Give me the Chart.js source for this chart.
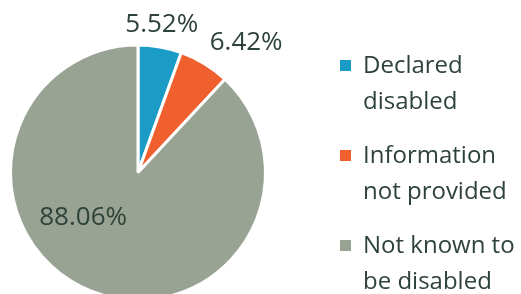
<!DOCTYPE html>
<html>
<head>
<meta charset="utf-8">
<script src="https://cdn.jsdelivr.net/npm/chart.js@4"></script>
<style>
  html, body { margin: 0; padding: 0; background: #fff; overflow: hidden; }
  body { width: 521px; height: 294px; position: relative; }
  #chart { position: absolute; left: 0; top: 0; }
  #legend {
    position: absolute; left: 340px; top: 46px;
    font-family: "Open Sans", sans-serif; font-size: 24px; line-height: 35.5px;
    color: #2d4238;
  }
  .item { display: flex; align-items: flex-start; margin-bottom: 19px; }
  .box { width: 11px; height: 11px; margin-top: 14px; margin-right: 12px; flex: none; }
</style>
</head>
<body>
<canvas id="chart" width="521" height="310"></canvas>
<div id="legend"></div>
<script>
// data
const categories = [["Declared", "disabled"], ["Information", "not provided"], ["Not known to", "be disabled"]];
const shares = [5.52, 6.42, 88.06];
const sliceLabels = ["5.52%", "6.42%", "88.06%"];
const colours = ["#1a9cc6", "#f0602e", "#98a393"];

const textColour = "#2d4238";

// percent labels, outside for small slices, inside for the big one
const pctLabels = {
  id: "pctLabels",
  afterDatasetsDraw(chart) {
    const ctx = chart.ctx;
    const meta = chart.getDatasetMeta(0);
    ctx.save();
    ctx.font = "26px 'Open Sans'";
    ctx.fillStyle = textColour;
    ctx.textAlign = "center";
    ctx.textBaseline = "alphabetic";
    const digitH = 26 * 0.714;
    meta.data.forEach((arc, i) => {
      const p = arc.getProps(["x", "y", "startAngle", "endAngle", "outerRadius"], true);
      const mid = (p.startAngle + p.endAngle) / 2;
      const ux = Math.cos(mid), uy = Math.sin(mid);
      const text = sliceLabels[i];
      const w = ctx.measureText(text).width;
      let cx, cy;
      if (shares[i] < 20) {
        const r = p.outerRadius + 10;
        const ax = p.x + ux * r, ay = p.y + uy * r;
        const hx = Math.sign(ux) * Math.min(Math.max((Math.abs(ux) - 0.2) / 0.3, 0), 1);
        cx = ax + hx * w / 2;
        cy = ay + Math.sign(uy) * (digitH + 10) / 2;
      } else {
        // best-fit spot inside the large slice
        const a = mid + 30 * Math.PI / 180;
        const r = p.outerRadius * 0.55;
        cx = p.x + Math.cos(a) * r;
        cy = p.y + Math.sin(a) * r;
      }
      ctx.fillText(text, cx, cy + digitH / 2);
    });
    ctx.restore();
  }
};

const chart = new Chart(document.getElementById("chart"), {
  type: "pie",
  data: {
    labels: categories,
    datasets: [{
      data: shares,
      backgroundColor: colours,
      borderColor: "#ffffff",
      borderWidth: 3
    }]
  },
  options: {
    responsive: false,
    animation: false,
    devicePixelRatio: 1,
    layout: { padding: { left: 9, top: 43.5, right: 254, bottom: 8.5 } },
    plugins: {
      legend: { display: false },
      tooltip: { enabled: false }
    }
  },
  plugins: [pctLabels]
});

// legend
const legend = document.getElementById("legend");
categories.forEach((lines, i) => {
  const item = document.createElement("div");
  item.className = "item";
  const box = document.createElement("div");
  box.className = "box";
  box.style.background = colours[i];
  const txt = document.createElement("div");
  txt.innerHTML = lines.join("<br>");
  item.appendChild(box);
  item.appendChild(txt);
  legend.appendChild(item);
});
</script>
</body>
</html>
